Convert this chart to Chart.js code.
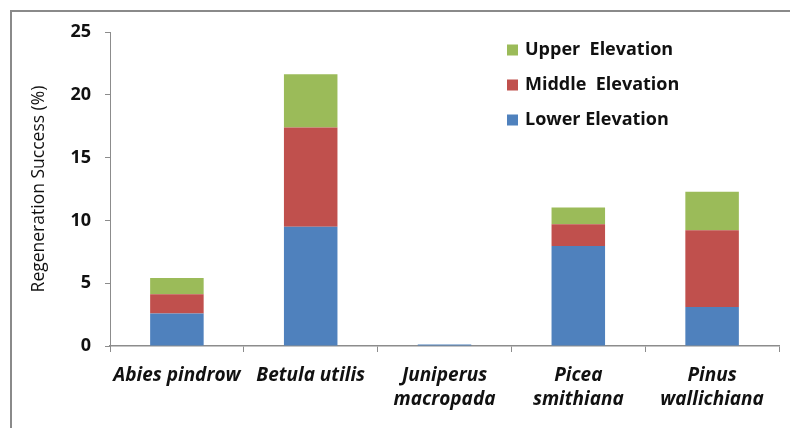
<!DOCTYPE html>
<html>
<head>
<meta charset="utf-8">
<script src="https://cdn.jsdelivr.net/npm/chart.js@4.4.1/dist/chart.umd.min.js"></script>
<style>
  html, body { margin: 0; padding: 0; background: #fff; }
  #wrap { position: relative; width: 790px; height: 428px; overflow: hidden; }
  #frame { position: absolute; left: 10px; top: 10px; width: 900px; height: 600px;
           border-top: 2px solid #8a8a8a; border-left: 2px solid #8a8a8a; }
  canvas { position: absolute; left: 0; top: 0; }
</style>
</head>
<body>
<div id="wrap">
  <div id="frame"></div>
  <canvas id="chart" width="790" height="428"></canvas>
</div>
<script>
// Species on the category axis (multi-line names as arrays)
const species = ['Abies pindrow', 'Betula utilis', ['Juniperus', 'macropada'], ['Picea', 'smithiana'], ['Pinus', 'wallichiana']];

// Regeneration success (%) by elevation zone
const lowerElevation  = [2.58, 9.50, 0.12, 7.96, 3.10];
const middleElevation = [1.54, 7.89, 0.00, 1.73, 6.11];
const upperElevation  = [1.29, 4.24, 0.00, 1.33, 3.08];

// Value axis ticks
const yTicks = [0, 5, 10, 15, 20, 25];

const FONT = "'Open Sans', sans-serif";
const AXIS_GREY = '#8c8c8c';

// Single-column legend drawn inside the plot, top item = last dataset
const boxLegend = {
  id: 'boxLegend',
  afterDraw(chart, args, opts) {
    const ctx = chart.ctx;
    ctx.save();
    ctx.font = opts.font;
    ctx.textBaseline = 'middle';
    ctx.textAlign = 'left';
    const items = chart.data.datasets.slice().reverse();
    items.forEach((ds, i) => {
      const y = opts.top + i * opts.spacing;
      ctx.fillStyle = ds.backgroundColor;
      ctx.fillRect(opts.left, y - opts.box / 2, opts.box, opts.box);
      ctx.fillStyle = opts.color;
      ctx.fillText(ds.label, opts.left + opts.box + opts.gap, y);
    });
    ctx.restore();
  }
};

new Chart(document.getElementById('chart'), {
  type: 'bar',
  data: {
    labels: species,
    datasets: [
      { label: 'Lower Elevation',   data: lowerElevation,  backgroundColor: '#4F81BD' },
      { label: 'Middle  Elevation', data: middleElevation, backgroundColor: '#C0504D' },
      { label: 'Upper  Elevation',  data: upperElevation,  backgroundColor: '#9BBB59' }
    ]
  },
  plugins: [boxLegend],
  options: {
    responsive: false,
    devicePixelRatio: 1,
    animation: false,
    categoryPercentage: 1,
    barPercentage: 0.4,
    layout: { padding: { left: 0, right: 11, top: 32, bottom: 0 } },
    plugins: {
      legend: { display: false },
      tooltip: { enabled: false },
      boxLegend: {
        left: 507, top: 50, spacing: 35, box: 11, gap: 7,
        font: "bold 18px " + FONT, color: '#111'
      }
    },
    scales: {
      x: {
        stacked: true,
        grid: { drawOnChartArea: false, offset: true, tickLength: 6, color: AXIS_GREY },
        border: { color: AXIS_GREY, width: 1.5 },
        ticks: {
          color: '#111', padding: 12, maxRotation: 0, autoSkip: false,
          font: { family: FONT, size: 19, weight: 'bold', style: 'italic', lineHeight: 1.25 }
        },
        afterFit(scale) { scale.height = 82; }
      },
      y: {
        stacked: true,
        min: yTicks[0],
        max: yTicks[yTicks.length - 1],
        afterBuildTicks(scale) { scale.ticks = yTicks.map(v => ({ value: v })); },
        grid: { drawOnChartArea: false, tickLength: 5, color: AXIS_GREY },
        border: { color: AXIS_GREY },
        ticks: {
          color: '#111', padding: 14,
          font: { family: FONT, size: 18, weight: 'bold' }
        },
        title: {
          display: true,
          text: 'Regeneration Success (%)',
          color: '#111',
          font: { family: FONT, size: 17.5 },
          padding: { top: 29, bottom: 0 }
        },
        afterFit(scale) { scale.width = 110; }
      }
    }
  }
});
</script>
</body>
</html>
